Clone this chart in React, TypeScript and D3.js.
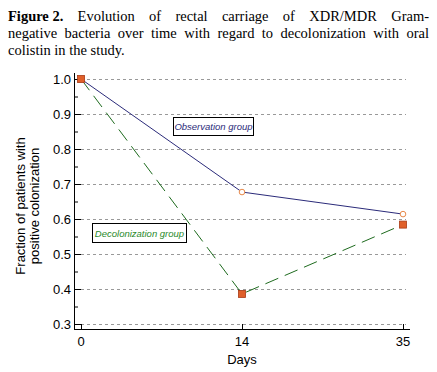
import React, { useEffect, useRef } from 'react';
import * as d3 from 'd3';

// data
const days = ['0', '14', '35'];
const observation = [1.0, 0.677, 0.614];
const decolonization = [1.0, 0.386, 0.584];
const yTicks = [0.3, 0.4, 0.5, 0.6, 0.7, 0.8, 0.9, 1.0];
const titleLines = [
  ['Figure 2.', 'Evolution', 'of', 'rectal', 'carriage', 'of', 'XDR/MDR', 'Gram-'],
  ['negative', 'bacteria', 'over', 'time', 'with', 'regard', 'to', 'decolonization', 'with', 'oral'],
  ['colistin', 'in', 'the', 'study.'],
];

const App = () => {
  const svgRef = useRef<SVGSVGElement>(null);

  useEffect(() => {
    const width = 437, height = 372;
    const svg = d3.select(svgRef.current).attr('width', width).attr('height', height);
    svg.selectAll('*').remove();

    // Title, justified by hand
    const title = svg.append('g')
      .style('font-family', '"Liberation Serif", "Times New Roman", serif')
      .style('font-size', '14.5px')
      .attr('fill', '#000');
    const left = 8, right = 429;
    titleLines.forEach((words, li) => {
      const baseline = 21 + li * 17;
      const nodes = words.map((w, wi) =>
        title.append('text')
          .attr('y', baseline)
          .style('font-weight', li === 0 && wi === 0 ? 'bold' : 'normal')
          .text(w));
      const widths = nodes.map(n => (n.node() as SVGTextElement).getComputedTextLength());
      const total = d3.sum(widths);
      const justify = li < titleLines.length - 1;
      const gap = justify ? (right - left - total) / (words.length - 1) : 3.6;
      let x = left;
      nodes.forEach((n, i) => {
        n.attr('x', x);
        x += widths[i] + gap;
      });
    });

    const x = d3.scalePoint<string>().domain(days).range([81, 403]);
    const y = d3.scaleLinear().domain([0.3, 1.0]).range([324, 79]);
    const axisLeft = 74, axisBottom = 329;

    const g = svg.append('g').style('font-family', '"Liberation Sans", Arial, sans-serif');

    // gridlines
    g.selectAll('.grid').data(yTicks).join('line')
      .attr('x1', axisLeft + 7).attr('x2', 406)
      .attr('y1', d => y(d) + 0.5).attr('y2', d => y(d) + 0.5)
      .attr('stroke', '#999').attr('stroke-dasharray', '3,3');

    // axes
    g.append('line').attr('x1', axisLeft + 0.5).attr('x2', axisLeft + 0.5)
      .attr('y1', 73).attr('y2', axisBottom + 0.5).attr('stroke', '#000');
    g.append('line').attr('x1', axisLeft).attr('x2', 410)
      .attr('y1', axisBottom + 0.5).attr('y2', axisBottom + 0.5).attr('stroke', '#000');

    // y ticks (major + minor, inward)
    g.selectAll('.ytick').data(yTicks).join('line')
      .attr('x1', axisLeft).attr('x2', axisLeft + 7)
      .attr('y1', d => y(d) + 0.5).attr('y2', d => y(d) + 0.5).attr('stroke', '#000');
    g.selectAll('.yminor').data(yTicks.slice(0, -1).map(d => d + 0.05)).join('line')
      .attr('x1', axisLeft).attr('x2', axisLeft + 4)
      .attr('y1', d => y(d) + 0.5).attr('y2', d => y(d) + 0.5).attr('stroke', '#000');
    g.selectAll('.ylab').data(yTicks).join('text')
      .attr('x', 71).attr('y', d => y(d) + 5)
      .attr('text-anchor', 'end').style('font-size', '13px').text(d => d.toFixed(1));

    // x ticks
    g.selectAll('.xtick').data(days).join('line')
      .attr('x1', d => x(d)! + 0.5).attr('x2', d => x(d)! + 0.5)
      .attr('y1', axisBottom - 5).attr('y2', axisBottom).attr('stroke', '#000');
    g.selectAll('.xlab').data(days).join('text')
      .attr('x', d => x(d)!).attr('y', 346)
      .attr('text-anchor', 'middle').style('font-size', '13px').text(d => d);

    g.append('text').attr('x', 242).attr('y', 364).attr('text-anchor', 'middle')
      .style('font-size', '13px').text('Days');

    const ylab = g.append('text').attr('transform', 'translate(0,206) rotate(-90)')
      .attr('text-anchor', 'middle').style('font-size', '13px');
    ylab.append('tspan').attr('x', 0).attr('y', 25).text('Fraction of patients with');
    ylab.append('tspan').attr('x', 0).attr('y', 39).text('positive colonization');

    // lines
    const line = d3.line<number>().x((_, i) => x(days[i])!).y(d => y(d));
    g.append('path').datum(observation).attr('d', line)
      .attr('fill', 'none').attr('stroke', '#2b2b7a').attr('stroke-width', 1);
    g.append('path').datum(decolonization).attr('d', line)
      .attr('fill', 'none').attr('stroke', '#1e6b1e').attr('stroke-width', 1)
      .attr('stroke-dasharray', '14,7');

    // markers
    g.selectAll('.obs').data(observation.slice(1)).join('circle')
      .attr('cx', (_, i) => x(days[i + 1])!).attr('cy', d => y(d)).attr('r', 2.8)
      .attr('fill', '#fff').attr('stroke', '#e8894a').attr('stroke-width', 1);
    g.selectAll('.dec').data(decolonization).join('rect')
      .attr('x', (_, i) => x(days[i])! - 3.5).attr('y', d => y(d) - 3.5)
      .attr('width', 7).attr('height', 7)
      .attr('fill', '#e0602a').attr('stroke', '#a83a14').attr('stroke-width', 0.8);

    // legend boxes
    const legend = (bx: number, by: number, w: number, h: number, label: string, color: string) => {
      g.append('rect').attr('x', bx + 0.5).attr('y', by + 0.5).attr('width', w).attr('height', h)
        .attr('fill', '#fff').attr('stroke', '#000');
      g.append('text').attr('x', bx + w / 2 + 0.5).attr('y', by + h / 2 + 4)
        .attr('text-anchor', 'middle').attr('fill', color)
        .style('font-size', '9.5px').style('font-style', 'italic').text(label);
    };
    legend(173, 117, 80, 18, 'Observation group', '#2b2b7a');
    legend(92, 223, 94, 19, 'Decolonization group', '#2a8a2a');
  }, []);

  return (
    <div style={{ position: 'absolute', left: 0, top: 0, background: '#fff' }}>
      <svg ref={svgRef} style={{ display: 'block' }}></svg>
    </div>
  );
};

export default App;
